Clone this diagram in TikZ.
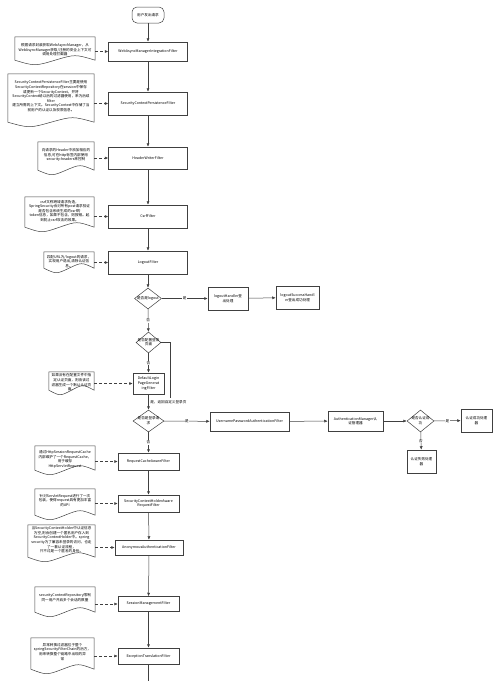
\documentclass[tikz,border=0pt]{standalone}
\usepackage{fontspec}
\setmainfont{Noto Sans CJK SC}
\usepackage{tikz}
\usetikzlibrary{shapes.geometric}
\usetikzlibrary{arrows.meta}
\usetikzlibrary{calc}
\newcommand{\flowfont}{\fontsize{3.6}{4.6}\selectfont}
\tikzset{filterbox/.style={draw=black!75, line width=0.5pt, fill=white, align=center, inner sep=0.5pt, font=\flowfont}}
\tikzset{decision/.style={diamond, draw=black!75, line width=0.5pt, fill=white, inner sep=0pt, font=\flowfont, align=center}}
\tikzset{notebox/.style={align=center, inner sep=0.5pt, font=\flowfont}}
\tikzset{notedraw/.style={draw=black!75, line width=0.5pt}}
\tikzset{flow/.style={draw=black!75, line width=0.5pt, -{Latex[length=3.5pt,width=3pt]}}}
\tikzset{noteflow/.style={flow, densely dashed}}
\tikzset{yesno/.style={fill=white, inner sep=0.6pt, font=\flowfont}}
% wavy bottom of a note
\newcommand{\docnote}[1]{%
\draw[notedraw] (#1.north west) -- (#1.north east) -- ($(#1.south east)+(0,-3)$)
  .. controls ($(#1.south)!0.5!(#1.south east)+(0,-9)$) .. ($(#1.south)+(0,-3)$)
  .. controls ($(#1.south)!0.5!(#1.south west)+(0,3)$) .. ($(#1.south west)+(0,-3)$) -- cycle;}

\begin{document}
\begin{tikzpicture}[x=1pt, y=-1pt]
\useasboundingbox (0,0) rectangle (500,681);

%main chain
\node[filterbox, rounded corners=5pt, minimum width=32pt, minimum height=16pt] (start) at (148,15) {用户发出请求};
\node[filterbox, minimum width=79pt, minimum height=19pt] (f1) at (148,51.5) {WebAsyncManagerIntegrationFilter};
\node[filterbox, minimum width=79pt, minimum height=23pt] (f2) at (148,103.5) {SecurityContextPersistenceFilter};
\node[filterbox, minimum width=79pt, minimum height=22pt] (f3) at (148,158) {HeaderWriterFilter};
\node[filterbox, minimum width=79pt, minimum height=23pt] (f4) at (148,216.5) {CsrfFilter};
\node[filterbox, minimum width=79pt, minimum height=23pt] (f5) at (148,262.5) {LogoutFilter};
\node[decision, minimum width=27pt, minimum height=21pt, label={center:{\flowfont 是否是logout}}] (d1) at (148,298.5) {};
\node[filterbox, minimum width=40pt, minimum height=23pt] (lh) at (228,298.5) {logoutHandler登\\出处理};
\node[filterbox, minimum width=43pt, minimum height=23pt] (lsh) at (297.5,297.5) {logoutSuccessHandl\\er登出成功处理};
\node[decision, minimum width=25pt, minimum height=21pt, label={center:{\flowfont\begin{tabular}{@{}c@{}}是否配置登录\\页面\end{tabular}}}] (d2) at (148.5,342.5) {};
\node[filterbox, minimum width=31pt, minimum height=21pt] (f6) at (148.5,383.5) {DefaultLogin\\PageGenerat\\ingFilter};
\node[decision, minimum width=31pt, minimum height=22pt, label={center:{\flowfont\begin{tabular}{@{}c@{}}是否是登录请\\求\end{tabular}}}] (d3) at (148.5,421) {};
\node[filterbox, minimum width=79pt, minimum height=19pt] (up) at (249.5,421.5) {UsernamePasswordAuthenticationFilter};
\node[filterbox, minimum width=55pt, minimum height=20pt] (am) at (355.5,421) {AuthenticationManager认\\证管理器};
\node[decision, minimum width=27pt, minimum height=22pt, label={center:{\flowfont\begin{tabular}{@{}c@{}}是否认证成\\功\end{tabular}}}] (d4) at (420.5,421) {};
\node[filterbox, minimum width=31pt, minimum height=23pt] (ok) at (476.5,420.5) {认证成功处理\\器};
\node[filterbox, minimum width=29pt, minimum height=23pt] (fail) at (421.5,461.5) {认证失败处理\\器};
\node[filterbox, minimum width=61pt, minimum height=17pt] (f7) at (148.5,461.5) {RequestCacheAwareFilter};
\node[filterbox, minimum width=61pt, minimum height=17pt] (f8) at (148.5,503.5) {SecurityContextHolderAware\\RequestFilter};
\node[filterbox, minimum width=68pt, minimum height=15pt] (f9) at (149,547.5) {AnonymousAuthenticationFilter};
\node[filterbox, minimum width=61pt, minimum height=15pt] (f10) at (148.5,604) {SessionManagementFilter};
\node[filterbox, minimum width=61pt, minimum height=16pt] (f11) at (148.5,656) {ExceptionTranslationFilter};
\coordinate (bottom) at (148.5,681);
\coordinate (d2turn) at (170,398);

%notes
\node[notebox, minimum width=80pt, minimum height=26pt] (n1) at (55,50) {根据请求封装获取WebAsyncManager，从\\WebAsyncManager获取/注册的安全上下文可\\调用处理拦截器};
\node[notebox, minimum width=86pt, minimum height=51pt] (n2) at (51,99.5) {SecurityContextPersistenceFilter主要是使用\\SecurityContextRepository在session中保存\\或更新一个SecurityContext，并将\\SecurityContext给以后的过滤器使用，来为后续\\filter\\建立所需的上下文。SecurityContext中存储了当\\前用户的认证以及权限信息。\\[2pt]};
\node[notebox, minimum width=56pt, minimum height=31pt] (n3) at (66,157.5) {向请求的Header中添加相应的\\信息,可在http标签内部使用\\security:headers来控制\\[1pt]};
\node[notebox, minimum width=69pt, minimum height=33pt] (n4) at (59.5,213.5) {csrf又称跨域请求伪造，\\SpringSecurity会对所有post请求验证\\是否包含系统生成的csrf的\\token信息，如果不包含，则报错。起\\到防止csrf攻击的效果。\\[1pt]};
\node[notebox, minimum width=50pt, minimum height=19pt] (n5) at (69,261.5) {匹配URL为/logout的请求，\\实现用户退出,清除认证信\\息。};
\node[notebox, minimum width=45pt, minimum height=21pt] (n6) at (71.5,382.5) {如果没有在配置文件中指\\定认证页面，则由该过\\滤器生成一个默认认证页\\面。};
\node[notebox, minimum width=60pt, minimum height=27pt] (n7) at (65,459.5) {通过HttpSessionRequestCache\\内部维护了一个RequestCache，\\用于缓存\\HttpServletRequest};
\node[notebox, minimum width=60pt, minimum height=29pt] (n8) at (65,503.5) {针对ServletRequest进行了一次\\包装，使得request具有更加丰富\\的API\\[2pt]};
\node[notebox, minimum width=67pt, minimum height=35pt] (n9) at (61.5,542.5) {当SecurityContextHolder中认证信息\\为空,则会创建一个匿名用户存入到\\SecurityContextHolder中。spring\\security为了兼容未登录的访问，也走\\了一套认证流程，\\只不过是一个匿名的身份。\\[1pt]};
\node[notebox, minimum width=60pt, minimum height=28pt] (n10) at (65,601) {securityContextRepository限制\\同一用户开启多个会话的数量\\[3pt]};
\node[notebox, minimum width=63pt, minimum height=34pt] (n11) at (62.5,655) {异常转换过滤器位于整个\\springSecurityFilterChain的后方，\\用来转换整个链路中出现的异\\常\\[2pt]};

\docnote{n1}
\docnote{n2}
\docnote{n3}
\docnote{n4}
\docnote{n5}
\docnote{n6}
\docnote{n7}
\docnote{n8}
\docnote{n9}
\docnote{n10}
\docnote{n11}

\draw[noteflow] (n1.east |- f1.west) -- (f1.west);
\draw[noteflow] (n2.east |- f2.west) -- (f2.west);
\draw[noteflow] (n3.east |- f3.west) -- (f3.west);
\draw[noteflow] (n4.east |- f4.west) -- (f4.west);
\draw[noteflow] (n5.east |- f5.west) -- (f5.west);
\draw[noteflow] (n6.east |- f6.west) -- (f6.west);
\draw[noteflow] (n7.east |- f7.west) -- (f7.west);
\draw[noteflow] (n8.east |- f8.west) -- (f8.west);
\draw[noteflow] (n9.east |- f9.west) -- (f9.west);
\draw[noteflow] (n10.east |- f10.west) -- (f10.west);
\draw[noteflow] (n11.east |- f11.west) -- (f11.west);

%connectors
\draw[flow] (start) -- (f1);
\draw[flow] (f1) -- (f2);
\draw[flow] (f2) -- (f3);
\draw[flow] (f3) -- (f4);
\draw[flow] (f4) -- (f5);
\draw[flow] (f5) -- (d1);
\draw[flow] (d1) -- node[yesno] {是} (lh);
\draw[flow] (lh) -- (lsh);
\draw[flow] (d1) -- node[yesno] {否} (d2);
\draw[flow] (d2) -- node[yesno] {否} (f6);
\draw[draw=black!75, line width=0.5pt] (d2.east) -| (d2turn);
\draw[flow] (f6) -- node[yesno, right, xshift=1pt] {是，返回自定义登录页} (d3);
\draw[flow] (d3) -- node[yesno] {是} (up);
\draw[flow] (up) -- (am);
\draw[flow] (am) -- (d4);
\draw[flow] (d4) -- node[yesno] {是} (ok);
\draw[flow] (d4) -- node[yesno] {否} (fail);
\draw[flow] (d3) -- node[yesno] {否} (f7);
\draw[flow] (f7) -- (f8);
\draw[flow] (f8) -- (f9);
\draw[flow] (f9) -- (f10);
\draw[flow] (f10) -- (f11);
\draw[draw=black!75, line width=0.5pt] (f11) -- (bottom);

\end{tikzpicture}
\end{document}
